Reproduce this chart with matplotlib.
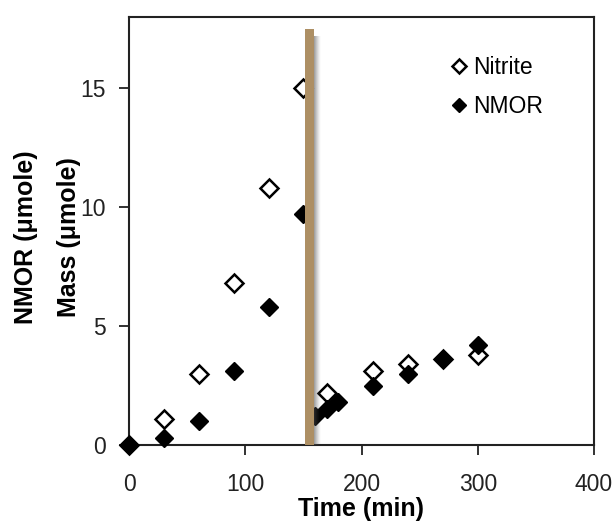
#!/usr/bin/env python3
"""Nitrite / NMOR mass vs time, recreated as out.png."""
import matplotlib
matplotlib.use("Agg")
import matplotlib.pyplot as plt
import numpy as np

# ── data ─────────────────────────────────────────────────────────────────────
nitrite_time = [0, 30, 60, 90, 120, 150, 170, 210, 240, 270, 300]
nitrite_mass = [0.0, 1.1, 3.0, 6.8, 10.8, 15.0, 2.2, 3.1, 3.4, 3.6, 3.8]

nmor_time = [0, 30, 60, 90, 120, 150, 160, 170, 180, 210, 240, 270, 300]
nmor_mass = [0.0, 0.3, 1.0, 3.1, 5.8, 9.7, 1.2, 1.5, 1.8, 2.5, 3.0, 3.6, 4.2]

marker_time = 155.5     # vertical bar (addition event)
marker_top = 17.5

x_ticks = [0, 100, 200, 300, 400]
y_ticks = [0, 5, 10, 15]

BAR_COLOR = "#AD8F64"

plt.rcParams.update({
    "font.family": ["Liberation Sans", "DejaVu Sans"],
    "font.size": 16,
})

fig = plt.figure(figsize=(6.13, 5.25), dpi=100)
ax = fig.add_axes([129 / 613, 80 / 525, 465 / 613, 428 / 525])

ax.plot(nitrite_time, nitrite_mass, ls="none", marker="D", ms=9.0,
        mfc="white", mec="black", mew=1.8, zorder=3, label="Nitrite",
        clip_on=False)
ax.plot(nmor_time, nmor_mass, ls="none", marker="D", ms=9.0,
        mfc="black", mec="black", mew=1.0, zorder=4, label="NMOR",
        clip_on=False)

# brown bar with a soft grey shadow fading out to its right
bar_w = 8.0
shade_w = 5.5
ramp = np.zeros((1, 64, 4))
ramp[..., :3] = 0.3
ramp[..., 3] = np.linspace(0.65, 0.0, 64) ** 1.3
ax.imshow(ramp, extent=(marker_time + bar_w / 2, marker_time + bar_w / 2 + shade_w,
                        0, marker_top - 0.3),
          aspect="auto", interpolation="bilinear", zorder=5)
ax.bar(marker_time, marker_top, width=bar_w, color=BAR_COLOR, lw=0, zorder=6)

ax.set_xlim(0, 400)
ax.set_ylim(0, 18)
ax.set_xticks(x_ticks)
ax.set_yticks(y_ticks)
ax.tick_params(direction="out", length=7, width=1.3, labelsize=16.5,
               colors="#222222")
ax.tick_params(axis="x", pad=13)
ax.tick_params(axis="y", pad=10)
for s in ax.spines.values():
    s.set_linewidth(1.5)
    s.set_color("#222222")

ax.set_xlabel("Time (min)", fontsize=18, fontweight="bold", labelpad=1)

yc = (80 + 428 / 2 - 6) / 525
fig.text(26 / 613, yc, "NMOR (\u03bcmole)", rotation=90, ha="center",
         va="center", fontsize=18, fontweight="bold")
fig.text(69 / 613, yc, "Mass (\u03bcmole)", rotation=90, ha="center",
         va="center", fontsize=18, fontweight="bold")

ax.legend(loc="upper left", bbox_to_anchor=(0.675, 0.93), frameon=False,
          markerscale=0.8, handlelength=0.6, handletextpad=0.3,
          labelspacing=0.7, fontsize=16.5, borderaxespad=0)

fig.savefig("out.png", dpi=100)
